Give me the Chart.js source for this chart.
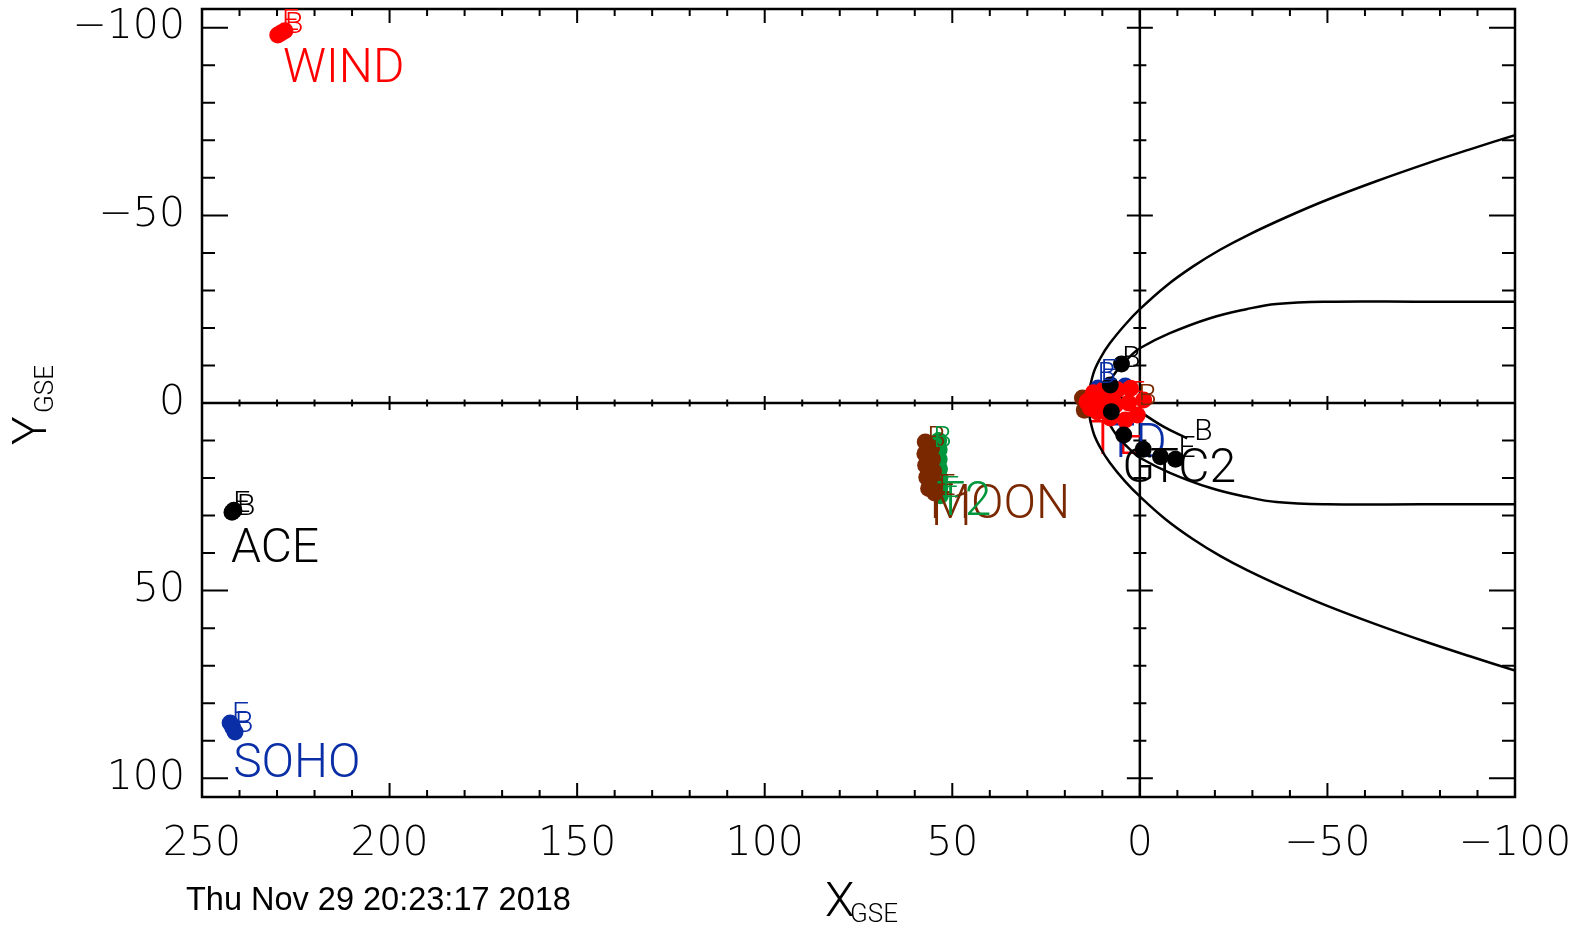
<!DOCTYPE html>
<html lang="en">
<head>
<meta charset="UTF-8">
<title>Spacecraft positions GSE</title>
<script src="https://cdn.jsdelivr.net/npm/chart.js"></script>
<style>
  body { margin: 0; background: #fff; }
  #wrap { width: 1586px; height: 930px; }
</style>
</head>
<body>
<div id="wrap"><canvas id="orbitChart" width="1586" height="930"></canvas></div>
<script>
// axis ticks
const xTicks = [250, 200, 150, 100, 50, 0, -50, -100];
const xTickLabels = ['250', '200', '150', '100', '50', '0', '\u221250', '\u2212100'];
const yTicks = [-100, -50, 0, 50, 100];
const yTickLabels = ['\u2212100', '\u221250', '0', '50', '100'];

// model boundaries (X, Y in Re)
const bowShock = [[-100, -71.4], [-88, -67.6], [-76.4, -63.8], [-63, -59.1], [-49.8, -54.1], [-39, -49.5],
  [-28.7, -44.7], [-21.5, -40.9], [-14.2, -36.4], [-7, -31.2], [0, -25.0], [4, -20.8], [8, -15.9], [10.5, -12],
  [12.5, -7.5], [13.8, 0], [12.5, 7.5], [10.5, 12], [8, 15.9], [4, 20.8], [0, 24.9], [-7, 31.1], [-14.2, 36.3],
  [-21.5, 40.8], [-28.7, 44.6], [-39, 49.4], [-49.8, 54.0], [-63, 59.0], [-76.4, 63.7], [-88, 67.5], [-100, 71.3]];
const magnetopause = [[-100, -27], [-75, -27], [-50, -27], [-36.4, -26.4], [-28.4, -25.0], [-18.7, -22.6], [-8, -18.6],
  [0, -14.6], [2.5, -12.5], [4.9, -10.1], [6.6, -8], [8.3, -5], [9.4, 0], [8.3, 5], [6.6, 8], [4.9, 10.1],
  [2.5, 12.5], [0, 14.6], [-8, 18.6], [-18.7, 22.6], [-28.4, 25.0], [-36.4, 26.4], [-50, 27], [-75, 27], [-100, 27]];
const blackTrack = [[5.2, -1.7], [-0.1, 2.3], [-6.3, 6.3], [-12.6, 9.4]];

// spacecraft positions
const wind = [[229.8, -98.1], [228.9, -98.6], [227.9, -99.2]];
const ace = [[242.0, 29.1], [241.5, 28.6]];
const soho = [[242.5, 85.3], [241.8, 86.5], [241.2, 87.7]];
const moon = [[57.2, 10.4], [55.5, 12.0], [57.3, 13.5], [55.3, 15.0], [57.1, 16.6], [55.0, 18.2], [56.8, 19.8],
  [54.8, 21.4], [56.3, 22.8], [54.7, 24.0]];
const probe2 = [[53.6, 10.0], [53.5, 12.5], [53.5, 15.0], [53.4, 17.5], [53.3, 20.0], [53.3, 22.5], [53.2, 24.7]];
const nearBlack = [[4.9, -10.4], [7.9, -4.8], [7.6, 2.3], [4.3, 8.5], [-0.9, 12.3], [-5.5, 14.3], [-9.5, 15.0]];
const nearRed = [[14.1, -0.3], [12.4, -2.7], [9.7, -3.5], [6.0, -3.5], [2.5, -3.9], [-1.0, -0.8], [0.7, 3.2],
  [3.9, 4.5], [7.9, 4.0], [11.3, 2.4], [13.2, 1.3], [10.0, 0.0], [6.5, 0.5], [3.0, 0.0], [8.0, -1.5], [12.0, 0.5]];
const nearBrown = [[15.3, -1.3], [14.8, 1.9]];
const nearBlue = [[11.1, -4.0], [3.9, -4.5]];

const RED = '#ff0000', BLUE = '#0a2ea6', BROWN = '#7a2800', GREEN = '#00963c', BLACK = '#000000';

// text labels anchored at (X, Y): left edge, baseline
const craftLabels = [
  { text: 'WIND', at: [228.4, -85.6], color: RED, size: 48 },
  { text: 'E', at: [228.7, -99.4], color: RED, size: 30 },
  { text: 'B', at: [227.9, -98.7], color: RED, size: 30 },
  { text: 'ACE', at: [242.3, 42.4], color: BLACK, size: 48 },
  { text: 'E', at: [241.7, 29.1], color: BLACK, size: 30 },
  { text: 'B', at: [240.7, 29.9], color: BLACK, size: 30 },
  { text: 'SOHO', at: [241.7, 99.7], color: BLUE, size: 48 },
  { text: 'E', at: [242.0, 85.3], color: BLUE, size: 30 },
  { text: 'B', at: [241.2, 87.7], color: BLUE, size: 30 },
  { text: 'MOON', at: [56.1, 30.7], color: BROWN, size: 48 },
  { text: 'T1', at: [58.0, 32.5], color: BROWN, size: 48 },
  { text: 'T2', at: [54.3, 29.9], color: GREEN, size: 48 },
  { text: 'B', at: [56.7, 11.7], color: BROWN, size: 30 },
  { text: 'B', at: [55.1, 11.7], color: GREEN, size: 30 },
  { text: 'E', at: [53.7, 24.5], color: BROWN, size: 30 },
  { text: 'E', at: [52.7, 25.1], color: GREEN, size: 30 },
  { text: 'TE', at: [13.7, 13.6], color: RED, size: 48, under: true },
  { text: 'TD', at: [8.9, 14.4], color: BLUE, size: 48, under: true },
  { text: 'G', at: [4.7, 21.1], color: BLACK, size: 48 },
  { text: 'TC2', at: [-2.8, 21.1], color: BLACK, size: 48 },
  { text: 'B', at: [4.7, -9.6], color: BLACK, size: 30 },
  { text: 'E', at: [3.6, -0.3], color: BLACK, size: 30, under: true },
  { text: 'B', at: [-14.5, 9.9], color: BLACK, size: 30 },
  { text: 'E', at: [-10.3, 14.4], color: BLACK, size: 30 },
  { text: 'B', at: [11.3, -5.3], color: BLUE, size: 30 },
  { text: 'E', at: [10.5, -6.1], color: BLUE, size: 30 },
  { text: 'B', at: [0.4, 0.5], color: BROWN, size: 30 },
  { text: 'E', at: [3.1, -0.3], color: RED, size: 30 }
];

const toXY = arr => arr.map(p => ({ x: p[0], y: p[1] }));

function curve(data, order) {
  return { data: toXY(data), showLine: true, borderColor: BLACK, borderWidth: 2.5, pointRadius: 0, tension: 0.4, fill: false, order };
}
function dots(data, color, order) {
  return { data: toXY(data), showLine: false, pointRadius: 8.5, pointBackgroundColor: color, pointBorderWidth: 0, borderColor: color, order };
}

function drawLabels(chart, under) {
  const { ctx, scales: { x, y } } = chart;
  ctx.save();
  ctx.textAlign = 'left';
  ctx.textBaseline = 'alphabetic';
  craftLabels.forEach(l => {
    if (!!l.under !== under) return;
    ctx.font = '300 ' + l.size + 'px Roboto';
    ctx.fillStyle = l.color;
    ctx.fillText(l.text, x.getPixelForValue(l.at[0]), y.getPixelForValue(l.at[1]));
  });
  ctx.restore();
}

function drawAxes(chart) {
  const { ctx, chartArea: a, scales: { x, y } } = chart;
  const x0 = x.getPixelForValue(0), y0 = y.getPixelForValue(0);
  ctx.save();
  ctx.strokeStyle = '#000';
  ctx.lineWidth = 2.5;
  ctx.strokeRect(a.left, a.top, a.width, a.height);
  ctx.beginPath();
  ctx.moveTo(a.left, y0); ctx.lineTo(a.right, y0);
  ctx.moveTo(x0, a.top); ctx.lineTo(x0, a.bottom);
  ctx.stroke();

  // inward ticks, every 10 with majors on the labelled values
  ctx.lineWidth = 2;
  ctx.beginPath();
  for (let v = x.min; v <= x.max; v += 10) {
    const px = x.getPixelForValue(v);
    const h = v % 50 === 0 ? 14 : 7;
    ctx.moveTo(px, a.bottom); ctx.lineTo(px, a.bottom - h);
    ctx.moveTo(px, a.top); ctx.lineTo(px, a.top + h);
    ctx.moveTo(px, y0 - h / 2); ctx.lineTo(px, y0 + h / 2);
  }
  for (let v = -100; v <= 100; v += 10) {
    const py = y.getPixelForValue(v);
    const w = v % 50 === 0 ? 26 : 13;
    ctx.moveTo(a.left, py); ctx.lineTo(a.left + w, py);
    ctx.moveTo(a.right, py); ctx.lineTo(a.right - w, py);
    ctx.moveTo(x0 - w / 2, py); ctx.lineTo(x0 + w / 2, py);
  }
  ctx.stroke();
  ctx.restore();
}

const axesFrame = {
  id: 'axesFrame',
  beforeDatasetsDraw(chart) {
    drawAxes(chart);
    drawLabels(chart, true);
  },
  afterDatasetsDraw(chart) { drawLabels(chart, false); },
  afterDraw(chart) {
    const { ctx } = chart;
    ctx.save();
    ctx.fillStyle = '#000';
    ctx.textAlign = 'left';
    ctx.textBaseline = 'alphabetic';
    ctx.font = '300 48px Roboto';
    ctx.fillText('X', 825, 916);
    ctx.font = '300 26px Roboto';
    ctx.fillText('GSE', 850, 922);

    ctx.save();
    ctx.translate(46, 445);
    ctx.rotate(-Math.PI / 2);
    ctx.font = '300 48px Roboto';
    ctx.fillText('Y', 0, 0);
    ctx.font = '300 26px Roboto';
    ctx.fillText('GSE', 32, 7);
    ctx.restore();

    ctx.font = '32.5px "Liberation Sans"';
    ctx.fillText('Thu Nov 29 20:23:17 2018', 186, 910);
    ctx.restore();
  }
};

const tickFont = { family: 'DejaVu Sans', size: 41, weight: 200 };

new Chart(document.getElementById('orbitChart'), {
  type: 'scatter',
  data: {
    datasets: [
      dots(nearBlack, BLACK, 1),
      dots(nearRed, RED, 2),
      dots(nearBrown, BROWN, 3),
      dots(nearBlue, BLUE, 4),
      dots(moon, BROWN, 5),
      dots(probe2, GREEN, 6),
      dots(wind, RED, 7),
      dots(ace, BLACK, 8),
      dots(soho, BLUE, 9),
      curve(blackTrack, 10),
      curve(magnetopause, 11),
      curve(bowShock, 12)
    ]
  },
  options: {
    responsive: false,
    animation: false,
    devicePixelRatio: 1,
    layout: { padding: { top: 9, right: 71, left: 0, bottom: 0 } },
    plugins: { legend: { display: false }, tooltip: { enabled: false } },
    scales: {
      x: {
        type: 'linear', min: -100, max: 250, reverse: true,
        grid: { display: false, drawTicks: false },
        border: { display: false },
        ticks: {
          color: '#000', font: tickFont, padding: 23, maxRotation: 0, autoSkip: false, includeBounds: false,
          callback: v => xTickLabels[xTicks.indexOf(v)]
        },
        afterBuildTicks: s => { s.ticks = xTicks.map(v => ({ value: v })); },
        afterFit: s => { s.height = 133; s.paddingLeft = 0; s.paddingRight = 0; }
      },
      y: {
        type: 'linear', min: -105, max: 105, reverse: true,
        grid: { display: false, drawTicks: false },
        border: { display: false },
        ticks: {
          color: '#000', font: tickFont, padding: 17, autoSkip: false, includeBounds: false,
          callback: v => yTickLabels[yTicks.indexOf(v)]
        },
        afterBuildTicks: s => { s.ticks = yTicks.map(v => ({ value: v })); },
        afterFit: s => { s.width = 202; s.paddingTop = 0; s.paddingBottom = 0; }
      }
    }
  },
  plugins: [axesFrame]
});
</script>
</body>
</html>
